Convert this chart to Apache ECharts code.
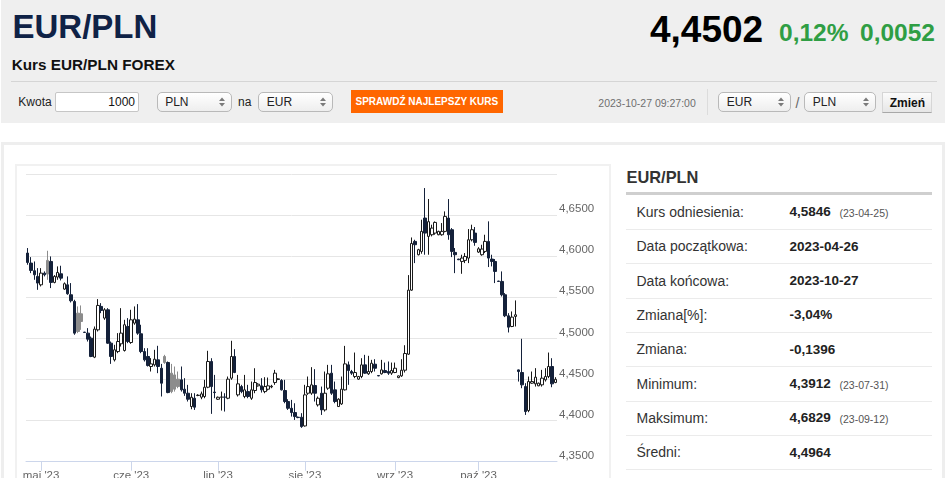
<!DOCTYPE html>
<html>
<head>
<meta charset="utf-8">
<script src="https://cdn.jsdelivr.net/npm/echarts@6/dist/echarts.min.js"></script>
<style>
html,body{margin:0;padding:0;}
body{width:948px;height:478px;overflow:hidden;position:relative;background:#fff;font-family:"Liberation Sans",Arial,Helvetica,sans-serif;}
.a{position:absolute;white-space:nowrap;line-height:1;}
.box{position:absolute;box-sizing:border-box;}
.sel{position:absolute;box-sizing:border-box;height:20.5px;top:91.5px;border:1px solid #b9b9b9;border-radius:5px;background:linear-gradient(#ffffff,#eeeeee);}
.sel svg{position:absolute;right:6px;top:4.5px;}
#chart{position:absolute;left:0;top:0;width:948px;height:478px;z-index:3;pointer-events:none;}
</style>
</head>
<body>
<div class="box" style="left:1px;top:0;width:944px;height:123px;background:#efefef;"></div>
<div class="box" style="left:11px;top:81px;width:926px;height:1px;background:#d5d5d5;"></div>
<div class="box" style="left:54.5px;top:91.5px;width:84.5px;height:20.5px;border:1px solid #c6c6c6;border-radius:2px;background:#fff;"></div>
<div class="box" style="left:351px;top:90px;width:151.7px;height:23.3px;background:#ff6600;"></div>
<div class="box" style="left:706.5px;top:89px;width:1px;height:26px;background:#dcdcdc;"></div>
<div class="box" style="left:882.3px;top:91.7px;width:50px;height:21.6px;background:linear-gradient(#fbfbfb,#e6e6e6);border:1px solid #d6d6d6;border-bottom-color:#a8a8a8;"></div>
<div class="box" style="left:1px;top:142px;width:944px;height:345px;border:3px solid #eeeeee;background:#fff;"></div>
<div class="box" style="left:15px;top:163.5px;width:596px;height:330px;border:2px solid #f1f1f1;"></div>
<div class="box" style="left:626px;top:192.3px;width:306px;height:2.3px;background:#cfcfcf;"></div>
<div id="chart"></div>
<script>
// ---------- data ----------
const dates = [
'04-26','04-27','04-28','04-30',
'05-01','05-02','05-03','05-04','05-05','05-07','05-08','05-09','05-10','05-11','05-12','05-14','05-15','05-16','05-17','05-18','05-19','05-21','05-22','05-23','05-24','05-25','05-26','05-28','05-29','05-30','05-31',
'06-01','06-02','06-04','06-05','06-06','06-07','06-08','06-09','06-11','06-12','06-13','06-14','06-15','06-16','06-18','06-19','06-20','06-21','06-22','06-23','06-25','06-26','06-27','06-28','06-29','06-30',
'07-02','07-03','07-04','07-05','07-06','07-07','07-09','07-10','07-11','07-12','07-13','07-14','07-16','07-17','07-18','07-19','07-20','07-21','07-23','07-24','07-25','07-26','07-27','07-28','07-30','07-31',
'08-01','08-02','08-03','08-04','08-06','08-07','08-08','08-09','08-10','08-11','08-13','08-14','08-15','08-16','08-17','08-18','08-20','08-21','08-22','08-23','08-24','08-25','08-27','08-28','08-29','08-30','08-31',
'09-01','09-03','09-04','09-05','09-06','09-07','09-08','09-10','09-11','09-12','09-13','09-14','09-15','09-17','09-18','09-19','09-20','09-21','09-22','09-24','09-25','09-26','09-27','09-28','09-29',
'10-01','10-02','10-03','10-04','10-05','10-06','10-08','10-09','10-10','10-11','10-12','10-13','10-15','10-16','10-17','10-18','10-19','10-20','10-22','10-23','10-24','10-25','10-26','10-27'];

const open = [
4.6038,4.5916,4.5823,4.5754,4.5652,4.5794,4.5949,4.5936,4.5681,4.5746,4.5786,4.5600,4.5652,4.5531,4.5449,4.5307,4.5299,4.5076,4.5064,4.5003,
4.4772,4.5104,4.5389,4.5247,4.5348,4.4942,4.4739,4.4840,4.4934,4.4853,4.5145,4.4950,4.5186,4.5226,4.5056,4.4840,4.4780,4.4658,4.4678,4.4739,
4.4637,4.4780,4.4707,4.4577,4.4556,4.4504,4.4496,4.4382,4.4333,4.4171,4.4272,4.4305,4.4285,4.4293,4.4406,4.4719,4.4347,4.4260,4.4284,4.4288,
4.4272,4.4516,4.4780,4.4313,4.4414,4.4293,4.4353,4.4272,4.4366,4.4423,4.4423,4.4353,4.4382,4.4410,4.4463,4.4500,4.4488,4.4366,4.4232,4.4150,
4.4098,4.4041,4.4041,4.3935,4.4333,4.4333,4.4427,4.4191,4.4333,4.4130,4.4394,4.4577,4.4374,4.4171,4.4203,4.4374,4.4678,4.4597,4.4536,4.4504,
4.4536,4.4678,4.4569,4.4597,4.4686,4.4548,4.4569,4.4609,4.4597,4.4577,4.4585,4.4523,4.4544,4.4613,4.4808,4.5587,4.6180,4.6018,4.6058,4.6464,
4.6241,4.6261,4.6281,4.6261,4.6261,4.6302,4.6464,4.6322,4.6046,4.5965,4.5936,4.5949,4.5977,4.6200,4.6281,4.6050,4.6018,4.6058,4.6180,4.5965,
4.5936,4.5697,4.5693,4.5531,4.5275,4.5145,4.5267,4.4617,4.4585,4.4414,4.4122,4.4455,4.4447,4.4423,4.4435,4.4496,4.4536,4.4658,4.4463];

const close = [
4.5924,4.5827,4.5774,4.5673,4.5794,4.5774,4.5782,4.5681,4.5754,4.5802,4.5733,4.5665,4.5543,4.5458,4.5064,4.5084,4.5206,4.5072,4.4991,4.4780,
4.5113,4.5401,4.5340,4.5348,4.4942,4.4780,4.4861,4.4962,4.5064,4.5166,4.4962,4.5226,4.5234,4.5064,4.4840,4.4739,4.4670,4.4690,4.4747,4.4658,
4.4455,4.4707,4.4341,4.4353,4.4382,4.4414,4.4374,4.4333,4.4260,4.4284,4.4163,4.4309,4.4325,4.4406,4.4719,4.4414,4.4341,4.4284,4.4288,4.4284,
4.4504,4.4780,4.4585,4.4447,4.4353,4.4374,4.4293,4.4374,4.4463,4.4443,4.4374,4.4414,4.4423,4.4418,4.4577,4.4508,4.4374,4.4232,4.4150,4.4098,
4.4049,4.4037,4.3927,4.4313,4.4414,4.4435,4.4333,4.4272,4.4130,4.4333,4.4569,4.4333,4.4232,4.4260,4.4382,4.4690,4.4609,4.4577,4.4585,4.4536,
4.4678,4.4577,4.4597,4.4698,4.4637,4.4544,4.4617,4.4585,4.4577,4.4609,4.4637,4.4544,4.4613,4.4816,4.5587,4.6155,4.6140,4.6079,4.6302,4.6281,
4.6420,4.6342,4.6411,4.6302,4.6302,4.6484,4.6261,4.6058,4.6018,4.5957,4.5977,4.5997,4.6200,4.6322,4.6168,4.6090,4.6087,4.6180,4.5977,4.5936,
4.5815,4.5693,4.5531,4.5275,4.5137,4.5259,4.5287,4.4597,4.4435,4.4110,4.4475,4.4475,4.4528,4.4455,4.4516,4.4536,4.4658,4.4447,4.4502];

const low = [
4.5896,4.5794,4.5713,4.5591,4.5632,4.5754,4.5713,4.5612,4.5670,4.5713,4.5705,4.5591,4.5531,4.5437,4.5044,4.5064,4.5104,4.5068,4.4962,4.4772,
4.4760,4.5084,4.5307,4.5226,4.4934,4.4690,4.4719,4.4820,4.4901,4.4840,4.4942,4.4934,4.5166,4.5044,4.4820,4.4719,4.4658,4.4597,4.4658,4.4577,
4.4293,4.4690,4.4333,4.4333,4.4353,4.4394,4.4353,4.4301,4.4232,4.4138,4.4130,4.4297,4.4260,4.4272,4.4394,4.4082,4.4272,4.4252,4.4122,4.4110,
4.4260,4.4496,4.4577,4.4293,4.4333,4.4272,4.4272,4.4252,4.4333,4.4414,4.4341,4.4333,4.4366,4.4394,4.4435,4.4492,4.4366,4.4211,4.4130,4.4049,
4.4008,4.4029,4.3912,4.3927,4.4313,4.4313,4.4232,4.4171,4.4069,4.4110,4.4374,4.4313,4.4211,4.4171,4.4191,4.4366,4.4435,4.4556,4.4516,4.4496,
4.4516,4.4569,4.4556,4.4577,4.4597,4.4540,4.4560,4.4577,4.4556,4.4556,4.4577,4.4516,4.4532,4.4585,4.4800,4.5579,4.5916,4.6010,4.6030,4.6018,
4.6018,4.6241,4.6261,4.6255,4.6249,4.6290,4.6200,4.5989,4.5794,4.5953,4.5786,4.5916,4.5916,4.6180,4.6127,4.6040,4.6006,4.6038,4.5868,4.5876,
4.5673,4.5689,4.5510,4.5259,4.5072,4.5137,4.5145,4.4475,4.4394,4.4069,4.4102,4.4447,4.4414,4.4419,4.4414,4.4475,4.4516,4.4406,4.4455];

const high = [
4.6099,4.5989,4.5936,4.5855,4.5855,4.5815,4.6066,4.5997,4.5770,4.5876,4.5884,4.5681,4.5754,4.5673,4.5470,4.5389,4.5401,4.5080,4.5125,4.5023,
4.5145,4.5478,4.5429,4.5368,4.5368,4.4962,4.4922,4.5064,4.5368,4.5226,4.5247,4.5348,4.5389,4.5417,4.5166,4.4881,4.4881,4.4760,4.4861,4.4910,
4.4690,4.4800,4.4719,4.4690,4.4658,4.4597,4.4658,4.4516,4.4435,4.4333,4.4333,4.4321,4.4353,4.4496,4.4849,4.4759,4.4556,4.4293,4.4353,4.4333,
4.4536,4.4971,4.4869,4.4556,4.4435,4.4556,4.4435,4.4475,4.4637,4.4455,4.4516,4.4528,4.4524,4.4435,4.4617,4.4516,4.4504,4.4496,4.4260,4.4252,
4.4211,4.4049,4.4090,4.4435,4.4536,4.4650,4.4626,4.4293,4.4414,4.4597,4.4678,4.4678,4.4475,4.4272,4.4536,4.4909,4.4719,4.4617,4.4828,4.4544,
4.4759,4.4800,4.4788,4.4739,4.4747,4.4552,4.4739,4.4706,4.4719,4.4706,4.4706,4.4548,4.4747,4.4917,4.5770,4.6228,4.6200,4.6090,4.6444,4.6829,
4.6696,4.6383,4.6423,4.6310,4.6403,4.6545,4.6695,4.6342,4.6099,4.5969,4.6018,4.6038,4.6330,4.6383,4.6355,4.6110,4.6139,4.6261,4.6424,4.6018,
4.5965,4.5701,4.5815,4.5551,4.5307,4.5328,4.5462,4.4621,4.4995,4.4455,4.4536,4.4597,4.4638,4.4463,4.4617,4.4638,4.4828,4.4759,4.4528];

const tickMonths = ['05','06','07','08','09','10'];
const tickLabels = ["maj '23","cze '23","lip '23","sie '23","wrz '23","paź '23"];
const yTicks = [4.35, 4.70, 0.05]; // min, max, step

const quote = ['4,4502','0,12%','0,0052'];
const statLabels = ['Kurs odniesienia:','Data początkowa:','Data końcowa:','Zmiana[%]:','Zmiana:','Minimum:','Maksimum:','Średni:'];
const statValues = ['4,5846','2023-04-26','2023-10-27','-3,04%','-0,1396','4,3912','4,6829','4,4964'];
const statDates = ['(23-04-25)','','','','','(23-07-31)','(23-09-12)',''];

// ---------- text helpers ----------
function put(txt, x, base, size, css, align) {
  const d = document.createElement('div');
  d.className = 'a';
  d.textContent = txt;
  d.style.fontSize = size + 'px';
  d.style.top = (base - 0.8465 * size) + 'px';
  if (align === 'right') d.style.right = (948 - x) + 'px';
  else if (align === 'center') { d.style.left = (x - 200) + 'px'; d.style.width = '400px'; d.style.textAlign = 'center'; }
  else d.style.left = x + 'px';
  if (css) d.style.cssText += css;
  document.body.appendChild(d);
  return d;
}
function sel(x, w, txt) {
  const s = document.createElement('div');
  s.className = 'sel';
  s.style.left = x + 'px'; s.style.width = w + 'px';
  s.innerHTML = '<svg width="6" height="10"><polygon points="0,4 3,0.5 6,4" fill="#7a7a7a"/><polygon points="0,6 3,9.5 6,6" fill="#7a7a7a"/></svg>';
  document.body.appendChild(s);
  put(txt, x + 8.5, 106, 12, 'color:#222;');
}

put('EUR/PLN', 12.5, 37.5, 33, 'font-weight:bold;color:#0f2246;');
put(quote[0], 650, 42, 37, 'font-weight:bold;color:#000;');
put(quote[1], 779, 41.5, 24.5, 'font-weight:bold;color:#2f9e44;');
put(quote[2], 860, 41.5, 24.5, 'font-weight:bold;color:#2f9e44;');
put('Kurs EUR/PLN FOREX', 11.7, 70, 15.3, 'font-weight:bold;color:#111;');
put('Kwota', 18.3, 106.5, 12, 'color:#222;');
put('1000', 135, 106.5, 12, 'color:#111;', 'right');
sel(156.7, 75.6, 'PLN');
put('na', 238, 106.5, 12, 'color:#222;');
sel(258.3, 74.4, 'EUR');
put('SPRAWDŹ NAJLEPSZY KURS', 426.8, 105.7, 10, 'font-weight:bold;color:#fff;', 'center');
put('2023-10-27 09:27:00', 598.3, 106.7, 10.5, 'color:#707070;');
sel(718.3, 72.4, 'EUR');
put('/', 795.5, 108, 14, 'color:#666;');
sel(804.3, 71.4, 'PLN');
put('Zmień', 907.3, 107, 12, 'font-weight:bold;color:#111;', 'center');

put('EUR/PLN', 626.5, 183.3, 16.4, 'font-weight:bold;color:#333;');
for (let i = 0; i < statLabels.length; i++) {
  const b = 216.7 + 34.37 * i;
  put(statLabels[i], 636.5, b, 14, 'color:#333;');
  put(statValues[i], 789.5, b, 13.5, 'font-weight:bold;color:#222;');
  if (statDates[i]) put(statDates[i], 839.5, b, 10.5, 'color:#555;');
  const ln = document.createElement('div');
  ln.className = 'box';
  ln.style.cssText = 'left:626px;width:306px;height:1px;background:#ebebeb;top:' + (229 + 34.33 * i) + 'px;';
  document.body.appendChild(ln);
}

// ---------- chart ----------
const candleData = dates.map((d, i) => {
  const v = [open[i], close[i], low[i], high[i]];
  const item = { value: v };
  if (i > 0 && close[i] < open[i] && close[i] > close[i - 1]) {
    item.itemStyle = { color: '#8c8c8c', color0: '#8c8c8c', borderColor: '#8c8c8c', borderColor0: '#8c8c8c' };
  }
  return item;
});

function isMonthStart(idx) {
  if (idx === 0) return false;
  return dates[idx].slice(0, 2) !== dates[idx - 1].slice(0, 2);
}

const chart = echarts.init(document.getElementById('chart'), null, { renderer: 'canvas' });
chart.setOption({
  animation: false,
  backgroundColor: 'transparent',
  textStyle: { fontFamily: '"Liberation Sans", Arial, sans-serif' },
  grid: { left: 26, top: 174, width: 531, height: 287.7, containLabel: false, outerBoundsMode: 'none' },
  xAxis: {
    type: 'category',
    data: dates,
    boundaryGap: true,
    axisLine: { lineStyle: { color: '#ccd6eb', width: 1 } },
    axisTick: { show: true, alignWithLabel: true, interval: isMonthStart, length: 9, lineStyle: { color: '#ccd6eb' } },
    axisLabel: {
      interval: isMonthStart,
      color: '#666666',
      fontSize: 11.5,
      margin: 8,
      formatter: function (v) { const k = tickMonths.indexOf(v.slice(0, 2)); return k >= 0 ? tickLabels[k] : ''; }
    },
    splitLine: { show: false }
  },
  yAxis: {
    type: 'value',
    position: 'right',
    min: yTicks[0],
    max: yTicks[1],
    interval: yTicks[2],
    scale: true,
    axisLine: { show: false },
    axisTick: { show: false },
    splitLine: { lineStyle: { color: '#e6e6e6', width: 1 } },
    axisLabel: {
      color: '#666666',
      fontSize: 11.5,
      margin: 2,
      verticalAlign: 'bottom',
      lineHeight: 12,
      formatter: function (v) { return Math.abs(v - yTicks[1]) < 1e-6 ? '' : v.toFixed(4).replace('.', ','); }
    }
  },
  series: [{
    type: 'candlestick',
    data: candleData,
    barWidth: 3,
    silent: true,
    itemStyle: { color: '#ffffff', color0: '#14213a', borderColor: '#1a1a1a', borderColor0: '#14213a', borderWidth: 1 }
  }]
});
</script>
</body>
</html>
